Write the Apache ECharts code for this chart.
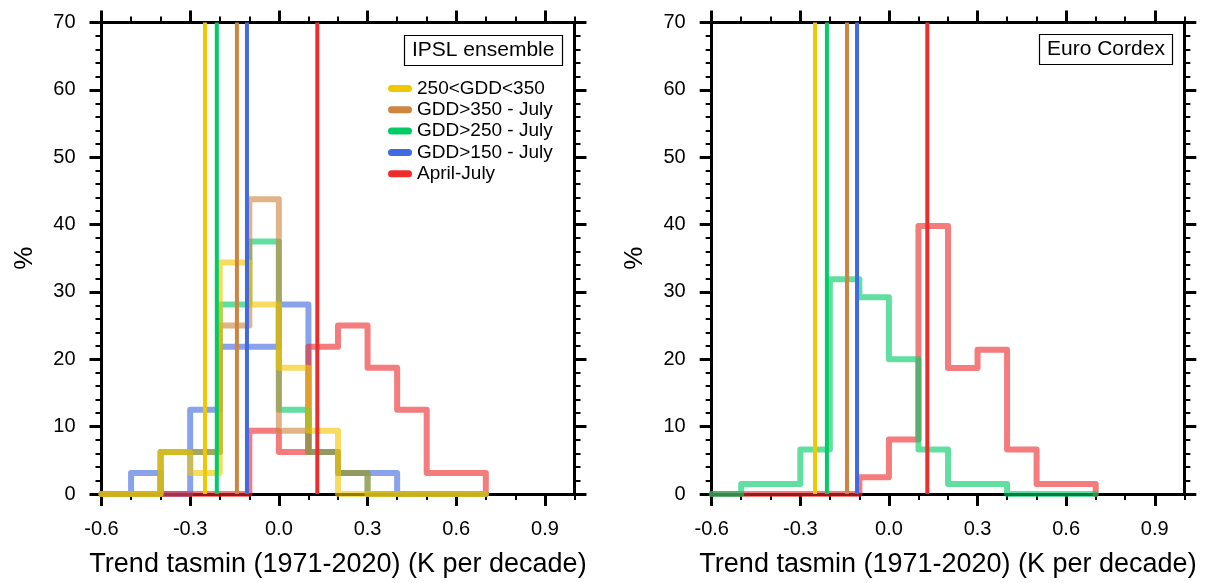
<!DOCTYPE html>
<html><head><meta charset="utf-8">
<script src="https://cdn.jsdelivr.net/npm/echarts@6/dist/echarts.min.js"></script>
<style>html,body{margin:0;padding:0;background:#fff}#c{width:1210px;height:583px}</style>
</head><body><div id="c"></div><script>
// ---------- DATA ----------
const binEdges = [-0.6,-0.5,-0.4,-0.3,-0.2,-0.1,0.0,0.1,0.2,0.3,0.4,0.5,0.6,0.7];
const xTickLabels = [-0.6,-0.3,0.0,0.3,0.6,0.9];
const seriesNames = ['250<GDD<350','GDD>350 - July','GDD>250 - July','GDD>150 - July','April-July'];
// IPSL ensemble histograms (% per 0.1 bin, bins start at binEdges[i])
const ipsl_250_350 = [0,0,6.25,3.125,34.375,28.125,18.75,9.375,0,0,0,0,0];
const ipsl_gdd350  = [0,0,6.25,6.25,25,43.75,9.375,6.25,3.125,0,0,0,0];
const ipsl_gdd250  = [0,0,6.25,6.25,28.125,37.5,12.5,6.25,3.125,0,0,0,0];
const ipsl_gdd150  = [0,3.125,0,12.5,21.875,21.875,28.125,6.25,3.125,3.125,0,0,0];
const ipsl_aprjul  = [0,0,0,0,0,9.375,6.25,21.875,25,18.75,12.5,3.125,3.125];
// Euro Cordex histograms
const cordex_gdd250 = [0,1.5,1.5,6.6,31.9,29.2,20,6.6,1.5,1.5,0,0,0];
const cordex_aprjul = [0,0,0,0,0,2.5,8.1,39.8,18.7,21.4,6.6,1.5,1.5];
// Observed trends (vertical lines), same order as seriesNames
const obsTrend = [-0.25,-0.142,-0.21,-0.108,0.13];
// ---------- STYLE ----------
const colors = ['#f0c800','#cd853f','#00cc66','#4169e1','#ee2c2c'];
const FONT = "'Liberation Sans', Arial, Helvetica, sans-serif";

const grids = [
  {left:101.5, top:22.5, width:473, height:472.5},
  {left:711.7, top:22.5, width:472.6, height:472.5}
];
const xAxes = [], yAxes = [];
grids.forEach((g, gi) => {
  const majorBase = {gridIndex:gi, type:'value', min:-0.6, max:1.0, interval:0.3,
    axisLine:{show:true, onZero:false, lineStyle:{color:'#000', width:3}},
    axisTick:{show:true, length:12, customValues:xTickLabels, lineStyle:{color:'#000', width:3}},
    splitLine:{show:false}};
  const minorBase = {gridIndex:gi, type:'value', min:-0.6, max:1.0, interval:0.1,
    axisLine:{show:false, onZero:false},
    axisTick:{show:true, length:6, lineStyle:{color:'#000', width:2}},
    axisLabel:{show:false}, splitLine:{show:false}};
  xAxes.push(Object.assign({}, majorBase, {position:'bottom',
    axisLabel:{show:true, customValues:xTickLabels, formatter:v=>Number(v).toFixed(1), fontSize:20, color:'#000', margin:25, fontFamily:FONT},
    name:'Trend tasmin (1971-2020) (K per decade)', nameLocation:'middle', nameGap:57,
    nameTextStyle:{fontSize:27, color:'#000', fontFamily:FONT}}));
  xAxes.push(Object.assign({}, minorBase, {position:'bottom'}));
  xAxes.push(Object.assign({}, majorBase, {position:'top', axisLabel:{show:false}}));
  xAxes.push(Object.assign({}, minorBase, {position:'top'}));
  const yBase = {gridIndex:gi, type:'value', min:0, max:70, interval:10,
    axisLine:{show:true, onZero:false, lineStyle:{color:'#000', width:3}},
    axisTick:{show:true, length:12, lineStyle:{color:'#000', width:3}},
    minorTick:{show:true, splitNumber:5, length:6, lineStyle:{color:'#000', width:2}},
    splitLine:{show:false}, minorSplitLine:{show:false}};
  yAxes.push(Object.assign({}, yBase, {position:'left',
    axisLabel:{show:true, fontSize:20, color:'#000', margin:26, fontFamily:FONT},
    name:'%', nameLocation:'middle', nameGap:64, nameRotate:90,
    nameTextStyle:{fontSize:26, color:'#000', fontFamily:FONT}}));
  yAxes.push(Object.assign({}, yBase, {position:'right', axisLabel:{show:false}}));
});

function histData(vals){ return binEdges.map((e,i)=>[e, i<vals.length ? vals[i] : 0]); }
function hist(name, vals, ci, gi){
  return {type:'line', name:name, step:'end', xAxisIndex:gi*4, yAxisIndex:gi*2,
    data:histData(vals), symbol:'none', showSymbol:false, clip:false, silent:true,
    itemStyle:{color:colors[ci]},
    lineStyle:{color:colors[ci], width:6, opacity:0.62, join:'round', cap:'round'}, z:2};
}
function obs(ci, gi){
  return {type:'line', name:seriesNames[ci], xAxisIndex:gi*4, yAxisIndex:gi*2,
    data:[[obsTrend[ci],0],[obsTrend[ci],70]], symbol:'none', showSymbol:false, clip:false, silent:true,
    itemStyle:{color:colors[ci]}, lineStyle:{color:colors[ci], width:4}, z:5};
}
const series = [
  hist('h150', ipsl_gdd150, 3, 0),
  hist('hAJ', ipsl_aprjul, 4, 0),
  hist('h250', ipsl_gdd250, 2, 0),
  hist('h350', ipsl_gdd350, 1, 0),
  hist('h250350', ipsl_250_350, 0, 0),
  hist('cAJ', cordex_aprjul, 4, 1),
  hist('c250', cordex_gdd250, 2, 1)
];
[0,1,2,3,4].forEach(ci=>series.push(obs(ci,0)));
[0,1,2,3,4].forEach(ci=>series.push(obs(ci,1)));

const chart = echarts.init(document.getElementById('c'), null, {renderer:'canvas'});
chart.setOption({
  animation:false,
  backgroundColor:'#fff',
  color:colors,
  textStyle:{fontFamily:FONT},
  title:[
    {text:'IPSL ensemble', left:404, top:35, borderWidth:1.2, borderColor:'#000', padding:[4,8],
     textStyle:{fontSize:21, fontWeight:'normal', color:'#000', lineHeight:23, fontFamily:FONT}},
    {text:'Euro Cordex', left:1039, top:34, borderWidth:1.2, borderColor:'#000', padding:[4,8],
     textStyle:{fontSize:21, fontWeight:'normal', color:'#000', lineHeight:23, fontFamily:FONT}}
  ],
  legend:{left:388, top:79, orient:'vertical', padding:0, itemGap:2.3, itemWidth:24, itemHeight:7,
    icon:'path://M3.5,0 L20.5,0 A3.5,3.5 0 0 1 20.5,7 L3.5,7 A3.5,3.5 0 0 1 3.5,0 Z',
    selectedMode:false, data:seriesNames,
    textStyle:{fontSize:19, color:'#000', lineHeight:19, fontFamily:FONT}},
  grid:grids, xAxis:xAxes, yAxis:yAxes, series:series
});
</script></body></html>
